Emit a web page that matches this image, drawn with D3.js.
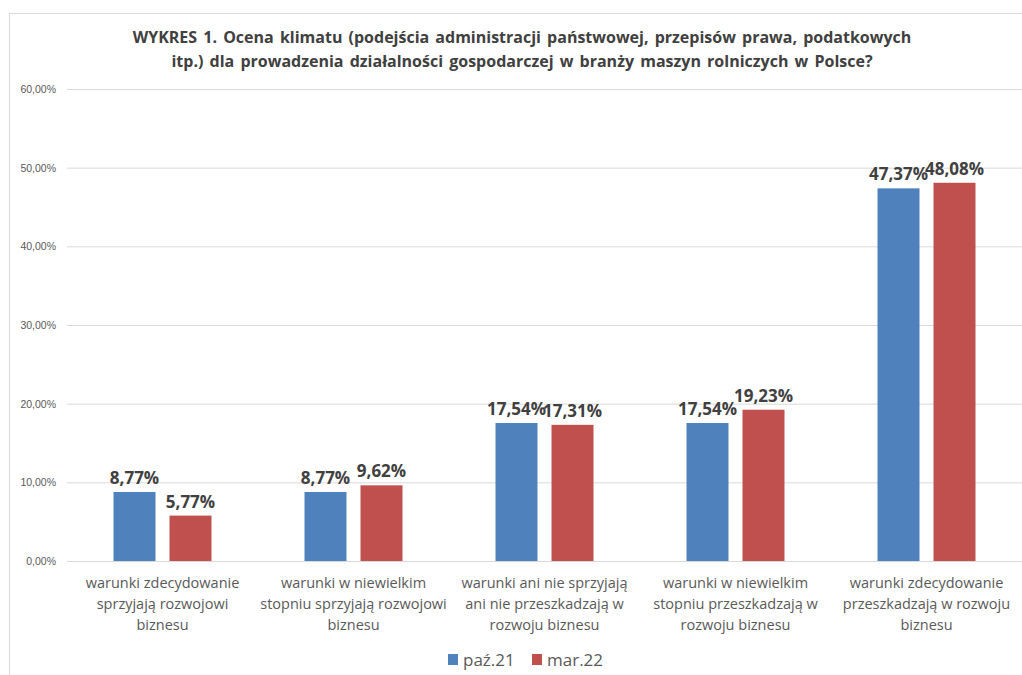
<!DOCTYPE html>
<html>
<head>
<meta charset="utf-8">
<script src="https://cdn.jsdelivr.net/npm/d3@7"></script>
<style>
  body { margin: 0; background: #fff; }
  svg { display: block; font-family: "Open Sans", Lato, sans-serif; }
</style>
</head>
<body>
<div id="chart"></div>
<script>

const categories = [
  ["warunki zdecydowanie", "sprzyjają rozwojowi", "biznesu"],
  ["warunki w niewielkim", "stopniu sprzyjają rozwojowi", "biznesu"],
  ["warunki ani nie sprzyjają", "ani nie przeszkadzają w", "rozwoju biznesu"],
  ["warunki w niewielkim", "stopniu przeszkadzają w", "rozwoju biznesu"],
  ["warunki zdecydowanie", "przeszkadzają w rozwoju", "biznesu"]
];
const seriesNames = ["paź.21", "mar.22"];
const paz21 = [8.77, 8.77, 17.54, 17.54, 47.37];
const mar22 = [5.77, 9.62, 17.31, 19.23, 48.08];
const yTicks = [0, 10, 20, 30, 40, 50, 60];
const titleLines = [
  "WYKRES 1. Ocena klimatu (podejścia administracji państwowej, przepisów prawa, podatkowych",
  "itp.) dla prowadzenia działalności gospodarczej w branży maszyn rolniczych w Polsce?"
];

const colors = ["#4f81bd", "#c0504d"];
const W = 1022, H = 675;
const M = { left: 67, right: 0, top: 89, bottom: 114 };

const svg = d3.select('#chart').append('svg')
  .attr('width', W)
  .attr('height', H);

// chart frame
svg.append('rect')
  .attr('x', 9.5).attr('y', 13.5)
  .attr('width', W + 10).attr('height', H + 10)
  .attr('fill', 'none')
  .attr('stroke', '#d9d9d9');

const fmt = v => v.toFixed(2).replace('.', ',') + '%';

const x0 = d3.scaleBand()
  .domain(d3.range(categories.length))
  .range([M.left, W - M.right]);

const x1 = d3.scaleBand()
  .domain([0, 1])
  .range([0, 98])
  .paddingInner(0.25);

const y = d3.scaleLinear()
  .domain([0, 60])
  .range([H - M.bottom, M.top]);

// title
svg.append('g').selectAll('text').data(titleLines)
  .enter().append('text')
    .attr('x', 522)
    .attr('y', (d, i) => 43 + i * 24)
    .attr('text-anchor', 'middle')
    .attr('font-size', 16)
    .attr('font-weight', 'bold')
    .attr('word-spacing', 2)
    .attr('fill', '#404040')
    .text(d => d);

// y axis grid + labels
const yAxis = d3.axisLeft(y)
  .tickValues(yTicks)
  .tickSize(-(W - M.left - M.right))
  .tickPadding(11)
  .tickFormat(d => d.toFixed(2).replace('.', ',') + '%');

const ga = svg.append('g')
  .attr('transform', `translate(${M.left},0)`)
  .call(yAxis);
ga.select('.domain').remove();
ga.selectAll('.tick line').attr('stroke', '#d9d9d9');
ga.selectAll('.tick text')
  .attr('fill', '#595959')
  .attr('font-size', 10.5);

// bars
const series = [paz21, mar22];
const groups = svg.append('g').selectAll('g')
  .data(categories.map((c, i) => i))
  .enter().append('g')
    .attr('transform', i => `translate(${x0(i) + x0.bandwidth() / 2 - 49},0)`);

groups.selectAll('rect')
  .data(i => series.map((s, k) => ({ k, v: s[i] })))
  .enter().append('rect')
    .attr('x', d => x1(d.k))
    .attr('y', d => y(d.v))
    .attr('width', x1.bandwidth())
    .attr('height', d => y(0) - y(d.v))
    .attr('fill', d => colors[d.k]);

groups.selectAll('text.val')
  .data(i => series.map((s, k) => ({ k, v: s[i] })))
  .enter().append('text')
    .attr('class', 'val')
    .attr('x', d => x1(d.k) + x1.bandwidth() / 2)
    .attr('y', d => y(d.v) - 8)
    .attr('text-anchor', 'middle')
    .attr('font-size', 17)
    .attr('font-weight', 'bold')
    .attr('fill', '#404040')
    .text(d => fmt(d.v));

// category labels
const cat = svg.append('g').selectAll('text')
  .data(categories)
  .enter().append('text')
    .attr('x', (d, i) => x0(i) + x0.bandwidth() / 2)
    .attr('y', 588)
    .attr('text-anchor', 'middle')
    .attr('font-size', 14.5)
    .attr('fill', '#595959');

cat.selectAll('tspan')
  .data(d => d)
  .enter().append('tspan')
    .attr('x', function () { return d3.select(this.parentNode).attr('x'); })
    .attr('dy', (d, i) => i === 0 ? 0 : 21)
    .text(d => d);

// legend
const legendX = [448, 532];
const lg = svg.append('g').selectAll('g')
  .data(seriesNames)
  .enter().append('g')
    .attr('transform', (d, i) => `translate(${legendX[i]},666)`);

lg.append('rect')
  .attr('x', 0).attr('y', -12)
  .attr('width', 10).attr('height', 11)
  .attr('fill', (d, i) => colors[i]);

lg.append('text')
  .attr('x', 15).attr('y', 0)
  .attr('font-size', 17)
  .attr('fill', '#595959')
  .text(d => d);

</script>
</body>
</html>
